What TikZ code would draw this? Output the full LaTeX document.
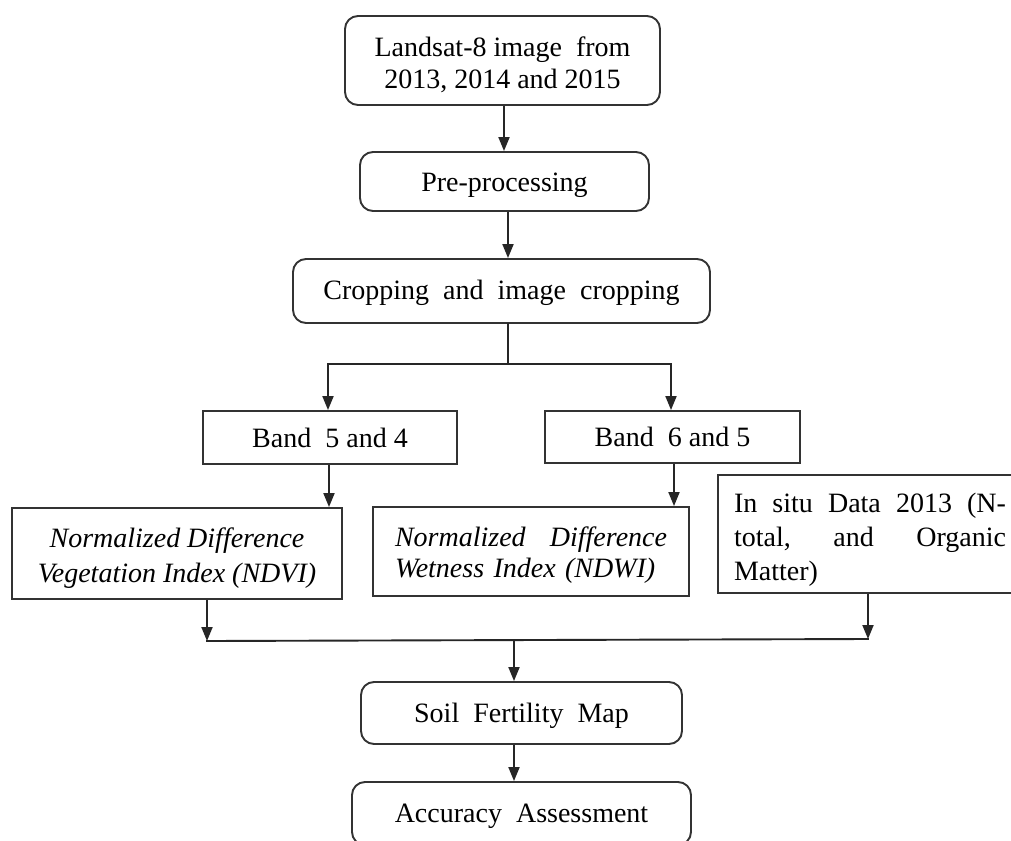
\documentclass[tikz,border=0pt]{standalone}
\usepackage{fontspec}
\setmainfont{Liberation Serif}
\usetikzlibrary{arrows.meta}
\newcommand{\tstrut}[1]{\rule{0pt}{#1pt}}
\begin{document}
\begin{tikzpicture}[x=1pt,y=-1pt,
  box/.style={draw=black!80, line width=1.9pt, font=\fontsize{28}{34}\selectfont, inner sep=0pt, align=center},
  rbox/.style={box, rounded corners=13pt},
  arr/.style={draw=black!85, line width=1.9pt, -{Triangle[length=14pt,width=11pt]}},
  ln/.style={draw=black!85, line width=1.9pt, line cap=rect}]
\useasboundingbox (0,0) rectangle (1011,840);
\clip (0,0) rectangle (1011,840);
\fill[white] (0,0) rectangle (1011,840);
% nodes
\node[rbox, minimum width=315pt, minimum height=89pt, font=\fontsize{28}{32}\selectfont] (land) at (502.5,60.5) {\tstrut{29}Landsat-8 image \ from\\2013, 2014 and 2015};
\node[rbox, minimum width=289pt, minimum height=59pt] (pre) at (504.5,181.5) {\tstrut{26.5}Pre-processing};
\node[rbox, minimum width=417pt, minimum height=64pt] (crop) at (501.5,291) {\tstrut{23}Cropping \ and \ image \ cropping};
\node[box, minimum width=254pt, minimum height=53pt] (band54) at (330,437.5) {Band \ 5 and 4};
\node[box, minimum width=255pt, minimum height=52pt] (band65) at (672.5,437) {Band \ 6 and 5};
\node[box, minimum width=330pt, minimum height=91pt, font=\fontsize{28}{35}\selectfont\itshape] (ndvi) at (177,553.5) {\tstrut{29}Normalized Difference\\Vegetation Index (NDVI)};
\node[box, minimum width=316pt, minimum height=89pt, text width=272pt, align=left, font=\fontsize{28}{31}\selectfont\itshape] (ndwi) at (531,551.5) {\makebox[272pt]{\tstrut{27}Normalized\hfill Difference}\\Wetness Index (NDWI)};
\node[box, minimum width=304pt, minimum height=118pt, text width=272pt, align=left] (insitu) at (870,534) {\makebox[272pt]{\tstrut{31}In\hfill situ\hfill Data\hfill 2013\hfill (N-}\\\makebox[272pt]{total,\hfill and\hfill Organic}\\Matter)};
\node[rbox, minimum width=321pt, minimum height=62pt] (soil) at (521.5,713) {\tstrut{25}Soil \ Fertility \ Map};
\node[rbox, minimum width=339pt, minimum height=63pt] (acc) at (521.5,813.5) {\tstrut{25}Accuracy \ Assessment};
% connectors
\draw[arr] ([xshift=-0.5pt]pre.north |- land.south) -- ([xshift=-0.5pt]pre.north);
\draw[arr] ([xshift=3.5pt]pre.south) -- ([xshift=3.5pt]pre.south |- crop.north);
\coordinate (bc) at (508,364);
\coordinate (bl) at (328,364);
\coordinate (bR) at (671,364);
\draw[ln] (bc |- crop.south) -- (bc);
\draw[ln] (bl) -- (bR);
\draw[arr] (bl) -- (bl |- band54.north);
\draw[arr] (bR) -- (bR |- band65.north);
\draw[arr] ([xshift=-1pt]band54.south) -- ([xshift=-1pt]band54.south |- ndvi.north);
\draw[arr] ([xshift=1.5pt]band65.south) -- ([xshift=1.5pt]band65.south |- ndwi.north);
\coordinate (ml) at (207,641);
\coordinate (mr) at (868,639);
\coordinate (mc) at (514,640);
\draw[arr] (ml |- ndvi.south) -- (ml);
\draw[arr] (mr |- insitu.south) -- (mr);
\draw[ln] (ml) -- (mr);
\draw[arr] (mc) -- (mc |- soil.north);
\draw[arr] (mc |- soil.south) -- (mc |- acc.north);
\end{tikzpicture}
\end{document}
